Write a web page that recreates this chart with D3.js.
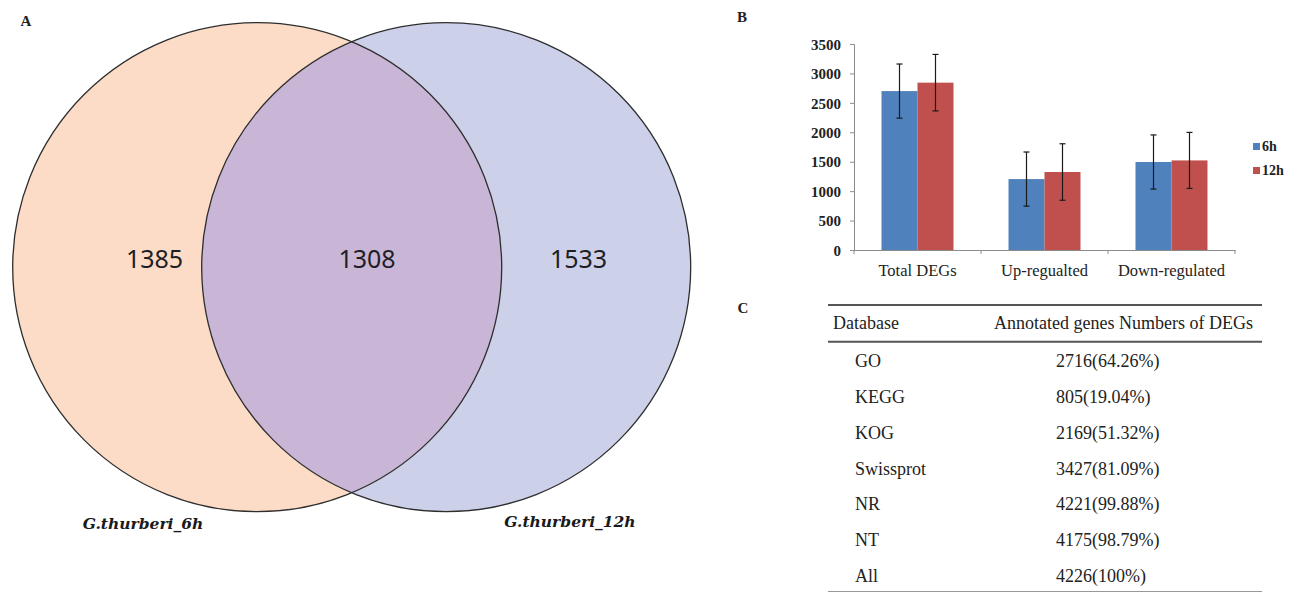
<!DOCTYPE html>
<html><head><meta charset="utf-8">
<script src="https://cdn.jsdelivr.net/npm/d3@7"></script>
<style>body{margin:0;background:#fff}svg{display:block}</style>
</head><body><svg id="c" width="1297" height="592"></svg>
<script>
// ---- Venn data ----
const vennSets = ["G.thurberi_6h", "G.thurberi_12h"];
const vennCounts = [1385, 1308, 1533]; // only 6h, shared, only 12h
// ---- Bar chart data ----
const categories = ["Total DEGs", "Up-regualted", "Down-regulated"];
const seriesNames = ["6h", "12h"];
const values6h = [2700, 1205, 1495];
const values12h = [2843, 1325, 1522];
const err6h = [460, 460, 460];
const err12h = [480, 480, 476];
const yTicks = [0, 500, 1000, 1500, 2000, 2500, 3000, 3500];
// ---- Table data ----
const tableHeader = ["Database", "Annotated genes Numbers of DEGs"];
const databases = ["GO", "KEGG", "KOG", "Swissprot", "NR", "NT", "All"];
const annotated = ["2716(64.26%)", "805(19.04%)", "2169(51.32%)", "3427(81.09%)", "4221(99.88%)", "4175(98.79%)", "4226(100%)"];

const svg = d3.select("#c");
const serif = "'Liberation Serif','Times New Roman',serif";

// ================= Panel A: Venn =================
const r = 244.5, cy = 267.2;
const vx = d3.scaleLinear().domain([0, 1]).range([257.2, 446.2]);
const vg = svg.append("g");
const defs = svg.append("defs");
defs.append("clipPath").attr("id", "clipL").append("circle")
  .attr("cx", vx(0)).attr("cy", cy).attr("r", r);
vg.append("circle").attr("cx", vx(0)).attr("cy", cy).attr("r", r).attr("fill", "#fcdcc6");
vg.append("circle").attr("cx", vx(1)).attr("cy", cy).attr("r", r).attr("fill", "#ccd0e8");
vg.append("circle").attr("cx", vx(1)).attr("cy", cy).attr("r", r).attr("fill", "#c9b6d6").attr("clip-path", "url(#clipL)");
vg.selectAll("circle.o").data([0, 1]).enter().append("circle").attr("class", "o")
  .attr("cx", d => vx(d)).attr("cy", cy).attr("r", r)
  .attr("fill", "none").attr("stroke", "#2e2e2e").attr("stroke-width", 1.3);
const numX = [154.5, 367, 578.5];
vg.selectAll("text.n").data(vennCounts).enter().append("text").attr("class", "n")
  .attr("x", (d, i) => numX[i]).attr("y", 268)
  .attr("text-anchor", "middle").attr("font-family", "'Noto Sans','Open Sans',sans-serif")
  .attr("font-size", 25).attr("fill", "#1e1e24").text(d => d);
const labX = [143, 570], labY = [529, 527];
vg.selectAll("text.l").data(vennSets).enter().append("text").attr("class", "l")
  .attr("x", (d, i) => labX[i]).attr("y", (d, i) => labY[i])
  .attr("text-anchor", "middle").attr("font-family", "'DejaVu Serif',serif")
  .attr("font-style", "italic").attr("font-weight", "bold")
  .attr("font-size", 15.5).attr("fill", "#1a1a1a").text(d => d);

// panel letters
const letters = [["A", 26, 26], ["B", 742, 22], ["C", 743, 313]];
svg.selectAll("text.pl").data(letters).enter().append("text").attr("class", "pl")
  .attr("x", d => d[1]).attr("y", d => d[2]).attr("text-anchor", "middle")
  .attr("font-family", serif).attr("font-weight", "bold").attr("font-size", 15)
  .attr("fill", "#222").text(d => d[0]);

// ================= Panel B: bar chart =================
const y = d3.scaleLinear().domain([0, 3500]).range([250, 44]);
const x0 = d3.scaleBand().domain(categories).range([854, 1235]).padding(0);
const x1 = d3.scaleBand().domain(seriesNames).range([0, x0.bandwidth()]).paddingInner(0).paddingOuter(0.764);
const color = d3.scaleOrdinal().domain(seriesNames).range(["#4f81bd", "#c0504d"]);
const data = categories.map((c, i) => ({
  cat: c,
  vals: [{s: "6h", v: values6h[i], e: err6h[i]}, {s: "12h", v: values12h[i], e: err12h[i]}]
}));
const bg = svg.append("g");
const groups = bg.selectAll("g.cat").data(data).enter().append("g")
  .attr("transform", d => `translate(${x0(d.cat)},0)`);
groups.selectAll("rect").data(d => d.vals).enter().append("rect")
  .attr("x", d => x1(d.s)).attr("width", x1.bandwidth())
  .attr("y", d => y(d.v)).attr("height", d => y(0) - y(d.v))
  .attr("fill", d => color(d.s));
const eb = groups.selectAll("g.err").data(d => d.vals).enter().append("g")
  .attr("stroke", "#1a1a1a").attr("stroke-width", 1.2);
eb.append("line").attr("x1", d => x1(d.s) + x1.bandwidth() / 2).attr("x2", d => x1(d.s) + x1.bandwidth() / 2)
  .attr("y1", d => y(d.v + d.e)).attr("y2", d => y(d.v - d.e));
eb.append("line").attr("x1", d => x1(d.s) + x1.bandwidth() / 2 - 3).attr("x2", d => x1(d.s) + x1.bandwidth() / 2 + 3)
  .attr("y1", d => y(d.v + d.e)).attr("y2", d => y(d.v + d.e));
eb.append("line").attr("x1", d => x1(d.s) + x1.bandwidth() / 2 - 3).attr("x2", d => x1(d.s) + x1.bandwidth() / 2 + 3)
  .attr("y1", d => y(d.v - d.e)).attr("y2", d => y(d.v - d.e));

// y axis
const ya = svg.append("g").attr("transform", "translate(854,0)")
  .call(d3.axisLeft(y).tickValues(yTicks).tickSize(4).tickPadding(9).tickFormat(d3.format("d")));
ya.select(".domain").attr("stroke", "#8c8c8c");
ya.selectAll(".tick line").attr("stroke", "#8c8c8c");
ya.selectAll(".tick text").attr("font-family", serif).attr("font-size", 15).attr("fill", "#222").attr("font-weight", "bold").attr("dy", "0.35em");
// x axis
const xa = svg.append("g").attr("transform", "translate(0,250)")
  .call(d3.axisBottom(x0).tickSize(0).tickPadding(14));
xa.select(".domain").attr("stroke", "#8c8c8c");
xa.selectAll(".tick text").attr("font-family", serif).attr("font-size", 16.5).attr("fill", "#222");
const bounds = [854].concat(categories.map(c => x0(c) + x0.bandwidth()));
xa.selectAll("line.sep").data(bounds).enter().append("line").attr("class", "sep")
  .attr("x1", d => d).attr("x2", d => d).attr("y1", 0).attr("y2", 4).attr("stroke", "#8c8c8c");

// legend
const lg = svg.append("g").selectAll("g").data(seriesNames).enter().append("g")
  .attr("transform", (d, i) => `translate(1253,${143 + i * 24})`);
lg.append("rect").attr("width", 7).attr("height", 7).attr("fill", d => color(d));
lg.append("text").attr("x", 9).attr("y", 3.5).attr("dy", "0.35em")
  .attr("font-family", serif).attr("font-weight", "bold").attr("font-size", 14).attr("fill", "#222").text(d => d);

// ================= Panel C: table =================
const tg = svg.append("g");
tg.append("line").attr("x1", 828).attr("x2", 1262).attr("y1", 305).attr("y2", 305).attr("stroke", "#555").attr("stroke-width", 2);
tg.append("line").attr("x1", 828).attr("x2", 1262).attr("y1", 341.7).attr("y2", 341.7).attr("stroke", "#555").attr("stroke-width", 2);
tg.append("line").attr("x1", 828).attr("x2", 1262).attr("y1", 591.5).attr("y2", 591.5).attr("stroke", "#999").attr("stroke-width", 1);
const hx = [833, 994];
tg.selectAll("text.h").data(tableHeader).enter().append("text").attr("class", "h")
  .attr("x", (d, i) => hx[i]).attr("y", 323).attr("dy", "0.35em")
  .attr("font-family", serif).attr("font-size", 18).attr("fill", "#222").text(d => d);
const ry = d3.scaleLinear().domain([0, 6]).range([360.7, 575.7]);
tg.selectAll("text.db").data(databases).enter().append("text").attr("class", "db")
  .attr("x", 855).attr("y", (d, i) => ry(i)).attr("dy", "0.35em")
  .attr("font-family", serif).attr("font-size", 18).attr("fill", "#222").text(d => d);
tg.selectAll("text.an").data(annotated).enter().append("text").attr("class", "an")
  .attr("x", 1056).attr("y", (d, i) => ry(i)).attr("dy", "0.35em")
  .attr("font-family", serif).attr("font-size", 18).attr("fill", "#222").text(d => d);
</script></body></html>
